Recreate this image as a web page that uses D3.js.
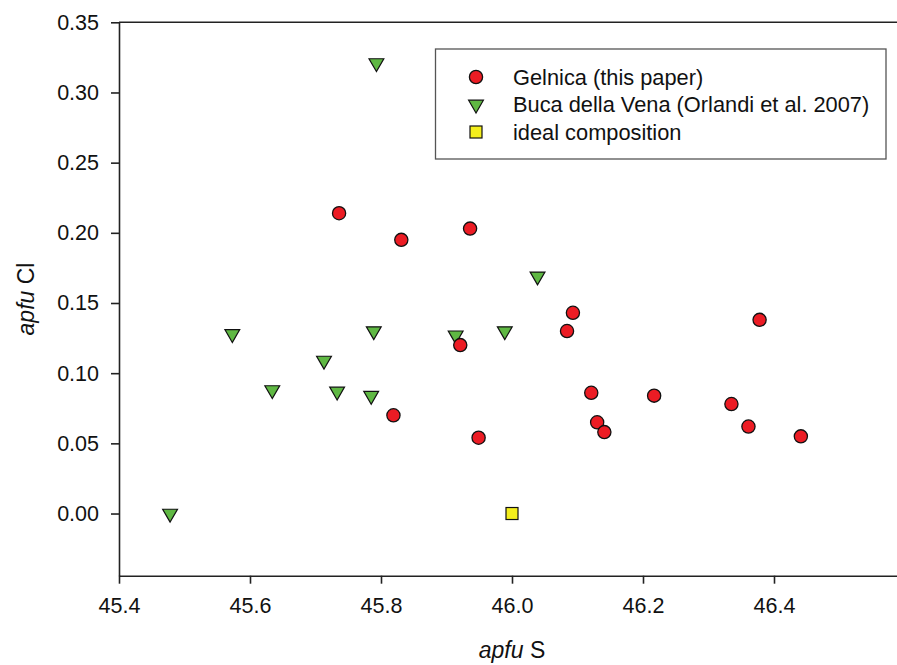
<!DOCTYPE html>
<html>
<head>
<meta charset="utf-8">
<script src="https://cdn.jsdelivr.net/npm/d3@7"></script>
<style>
  body { margin: 0; background: #fff; }
  svg text { font-family: "Liberation Sans", Arial, sans-serif; fill: #111; }
</style>
</head>
<body>
<div id="chart"></div>
<script>
// Gelnica (this paper)
var gelnicaS  = [45.736, 45.831, 45.936, 46.093, 46.084, 45.921, 46.378, 46.121, 46.217, 46.335, 46.130, 46.141, 45.819, 45.949, 46.361, 46.441];
var gelnicaCl = [0.214, 0.195, 0.203, 0.143, 0.130, 0.120, 0.138, 0.086, 0.084, 0.078, 0.065, 0.058, 0.070, 0.054, 0.062, 0.055];

// Buca della Vena (Orlandi et al. 2007)
var bucaS  = [45.793, 46.039, 45.573, 45.713, 45.789, 45.914, 45.989, 45.634, 45.733, 45.785, 45.478];
var bucaCl = [0.321, 0.169, 0.128, 0.109, 0.130, 0.127, 0.130, 0.088, 0.087, 0.084, 0.000];

// ideal composition
var idealS  = [46.0];
var idealCl = [0.0];

var xTicks = [45.4, 45.6, 45.8, 46.0, 46.2, 46.4];
var yTicks = [0.00, 0.05, 0.10, 0.15, 0.20, 0.25, 0.30, 0.35];
var legendLabels = ["Gelnica (this paper)", "Buca della Vena (Orlandi et al. 2007)", "ideal composition"];

var width = 897, height = 665;
var svg = d3.select("#chart").append("svg")
    .attr("width", width)
    .attr("height", height);

var x = d3.scaleLinear().domain([45.4, 46.6]).range([119, 905]);
var y = d3.scaleLinear().domain([-0.0443, 0.35]).range([575.7, 22.3]);

function zip(a, b) {
    return a.map(function (v, i) { return { s: v, cl: b[i] }; });
}

// axes
var xAxis = svg.append("g")
    .attr("transform", "translate(0," + y.range()[0] + ")")
    .call(d3.axisBottom(x).tickValues(xTicks).tickFormat(d3.format(".1f")).tickSize(8).tickPadding(14).tickSizeOuter(0));
var yAxis = svg.append("g")
    .attr("transform", "translate(" + x.range()[0] + ",0)")
    .call(d3.axisLeft(y).tickValues(yTicks).tickFormat(d3.format(".2f")).tickSize(8).tickPadding(12).tickSizeOuter(0));

[xAxis, yAxis].forEach(function (g) {
    g.selectAll("path, line").attr("stroke", "#222").attr("stroke-width", 1.6);
    g.selectAll("text").style("font-size", "21.5px").attr("fill", "#111");
});

// top frame line
svg.append("line")
    .attr("x1", x.range()[0]).attr("x2", x.range()[1])
    .attr("y1", y.range()[1]).attr("y2", y.range()[1])
    .attr("stroke", "#222").attr("stroke-width", 1.6);

// axis titles
var xt = svg.append("text")
    .attr("x", (x.range()[0] + x.range()[1]) / 2)
    .attr("y", 658)
    .attr("text-anchor", "middle")
    .style("font-size", "23px");
xt.append("tspan").style("font-style", "italic").text("apfu");
xt.append("tspan").text(" S");

var yt = svg.append("text")
    .attr("transform", "translate(34," + ((y.range()[0] + y.range()[1]) / 2) + ") rotate(-90)")
    .attr("text-anchor", "middle")
    .style("font-size", "23px");
yt.append("tspan").style("font-style", "italic").text("apfu");
yt.append("tspan").text(" Cl");

// markers
var red = "#ec1c24", green = "#5fb843", yellow = "#f4ee1c";
var tri = d3.symbol().type(d3.symbolTriangle).size(95);

function drawTriangle(sel) {
    sel.attr("d", tri)
        .attr("fill", green).attr("stroke", "#111").attr("stroke-width", 1.2);
}

svg.append("g").selectAll("path")
    .data(zip(bucaS, bucaCl))
    .enter().append("path")
    .attr("transform", function (d) { return "translate(" + x(d.s) + "," + y(d.cl) + ") rotate(180)"; })
    .call(drawTriangle);

svg.append("g").selectAll("circle")
    .data(zip(gelnicaS, gelnicaCl))
    .enter().append("circle")
    .attr("cx", function (d) { return x(d.s); })
    .attr("cy", function (d) { return y(d.cl); })
    .attr("r", 6.6)
    .attr("fill", red).attr("stroke", "#111").attr("stroke-width", 1.3);

svg.append("g").selectAll("rect")
    .data(zip(idealS, idealCl))
    .enter().append("rect")
    .attr("x", function (d) { return x(d.s) - 6; })
    .attr("y", function (d) { return y(d.cl) - 6; })
    .attr("width", 12).attr("height", 12)
    .attr("fill", yellow).attr("stroke", "#111").attr("stroke-width", 1.2);

// legend
var legend = svg.append("g");
legend.append("rect")
    .attr("x", 435.5).attr("y", 49).attr("width", 450.5).attr("height", 110)
    .attr("fill", "#fff").attr("stroke", "#555").attr("stroke-width", 1.3);

var rows = legend.selectAll("g.row")
    .data(legendLabels)
    .enter().append("g")
    .attr("class", "row")
    .attr("transform", function (d, i) { return "translate(476," + (77 + i * 27.5) + ")"; });

rows.append("text")
    .attr("x", 37)
    .attr("dy", "0.35em")
    .style("font-size", "21.8px")
    .text(function (d) { return d; });

rows.filter(function (d, i) { return i === 0; }).append("circle")
    .attr("r", 6.6).attr("fill", red).attr("stroke", "#111").attr("stroke-width", 1.3);
rows.filter(function (d, i) { return i === 1; }).append("path")
    .attr("transform", "rotate(180)")
    .call(drawTriangle);
rows.filter(function (d, i) { return i === 2; }).append("rect")
    .attr("x", -6).attr("y", -6).attr("width", 12).attr("height", 12)
    .attr("fill", yellow).attr("stroke", "#111").attr("stroke-width", 1.2);
</script>
</body>
</html>
